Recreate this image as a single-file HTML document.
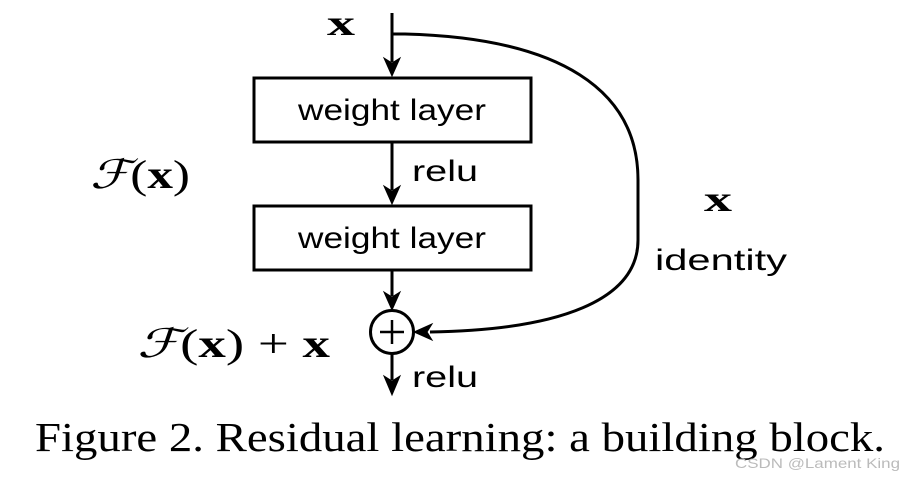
<!DOCTYPE html>
<html><head><meta charset="utf-8"><style>
body{margin:0;background:#fff;width:901px;height:477px;overflow:hidden}
</style></head><body>
<svg width="901" height="477" viewBox="0 0 901 477" xmlns="http://www.w3.org/2000/svg">
<g stroke="#000" stroke-width="3" fill="none">
<line x1="392" y1="13" x2="392" y2="62"/>
<path d="M384,58 L392,76 L400,58 L392,63 Z" fill="#000" stroke-width="1"/>
<rect x="254" y="78" width="277" height="64"/>
<line x1="392" y1="142" x2="392" y2="190"/>
<path d="M384,186 L392,204 L400,186 L392,191 Z" fill="#000" stroke-width="1"/>
<rect x="254" y="206" width="277" height="64"/>
<line x1="392" y1="270" x2="392" y2="296"/>
<path d="M384,292 L392,310 L400,292 L392,297 Z" fill="#000" stroke-width="1"/>
<circle cx="392" cy="332" r="21.5"/>
<line x1="380" y1="332" x2="404" y2="332" stroke-width="2.5"/>
<line x1="392" y1="320" x2="392" y2="344" stroke-width="2.5"/>
<line x1="392" y1="354" x2="392" y2="380"/>
<path d="M384,376 L392,395 L400,376 L392,381 Z" fill="#000" stroke-width="1"/>
<path d="M392,34 L405,34 C560,38 638,90 638,180 L638,240 C638,300 560,330 430,332"/>
<path d="M432,324 L414,332 L432,340 L427,332 Z" fill="#000" stroke-width="1"/>
</g>
<g font-family="Liberation Sans, DejaVu Sans, sans-serif" font-size="30" fill="#000" lengthAdjust="spacingAndGlyphs">
<text x="298" y="120" textLength="188" lengthAdjust="spacingAndGlyphs">weight layer</text>
<text x="298" y="248" textLength="188" lengthAdjust="spacingAndGlyphs">weight layer</text>
<text x="412" y="181" textLength="66" lengthAdjust="spacingAndGlyphs">relu</text>
<text x="412" y="387" textLength="66" lengthAdjust="spacingAndGlyphs">relu</text>
<text x="655" y="270" textLength="132" lengthAdjust="spacingAndGlyphs">identity</text>
</g>
<g font-family="Liberation Serif, DejaVu Serif, serif" fill="#000">
<text x="327" y="35" font-size="36" font-weight="bold" textLength="28" lengthAdjust="spacingAndGlyphs">x</text>
<text x="704" y="211" font-size="36" font-weight="bold" textLength="28" lengthAdjust="spacingAndGlyphs">x</text>
<text x="90" y="188" font-size="40" textLength="100" lengthAdjust="spacingAndGlyphs"><tspan font-style="italic">ℱ</tspan>(<tspan font-weight="bold">x</tspan>)</text>
<text x="137" y="357" font-size="40" textLength="193" lengthAdjust="spacingAndGlyphs"><tspan font-style="italic">ℱ</tspan>(<tspan font-weight="bold">x</tspan>) + <tspan font-weight="bold">x</tspan></text>
<text x="35" y="451" font-size="41" textLength="850" lengthAdjust="spacingAndGlyphs">Figure 2. Residual learning: a building block.</text>
</g>
<text x="735" y="468" font-family="Liberation Sans, sans-serif" font-size="14" fill="#bbb" textLength="165" lengthAdjust="spacingAndGlyphs">CSDN @Lament King</text>
</svg>
</body></html>
